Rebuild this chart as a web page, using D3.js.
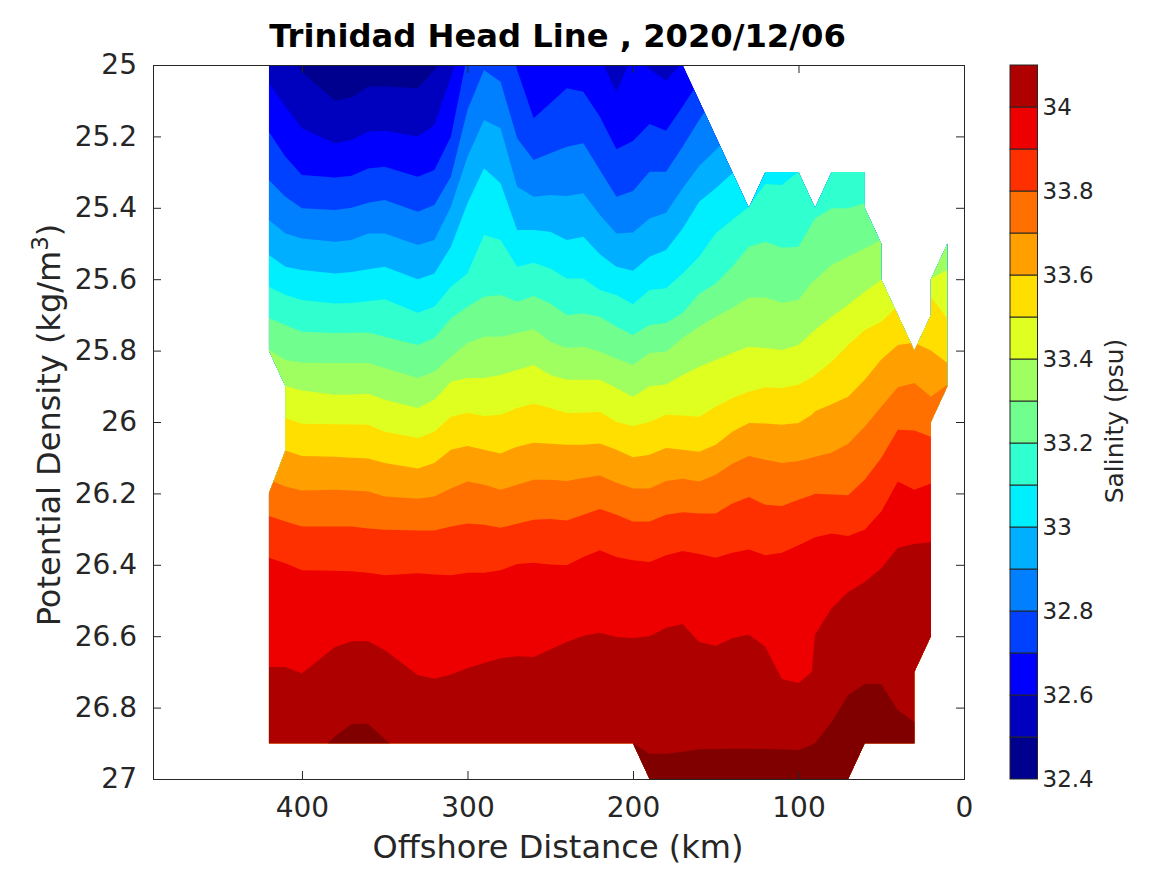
<!DOCTYPE html>
<html>
<head>
<meta charset="utf-8">
<title>Trinidad Head Line</title>
<script src="https://cdn.jsdelivr.net/npm/d3@7"></script>
<style>
  html, body { margin: 0; padding: 0; background: #fff; }
  text { font-family: "DejaVu Sans", sans-serif; fill: #262626; }
</style>
</head>
<body>
<div id="chart"></div>
<script>
// offshore distance of the stations (km)
var stations = [420,410,400,380,370,360,350,330,320,310,300,290,280,270,260,250,240,230,220,210,200,190,180,170,160,150,140,130,120,110,100,92,90,80,70,60,50,40,30,20,10];

// potential density at which salinity crosses each level, per station
var sal325 = [24.9,24.95,25.02,25.1,25.09,25.06,25.06,25.065,25.014,24.95,24.9,24.8,24.8,24.8,24.8,24.8,24.8,24.8,24.8,24.8,24.8,24.8,24.8,24.8,24.8,24.8,24.8,24.8,24.8,24.8,24.8,24.8,24.8,24.8,24.8,24.8,24.8,24.8,24.8,24.8,24.8];
var sal326 = [25.05,25.116,25.177,25.22,25.21,25.187,25.184,25.2,25.168,25.033,24.904,24.9,24.9,24.9,24.9,24.9,24.9,24.97,24.98,25.075,24.97,25.012,25.044,24.99,24.95,24.9,24.9,24.9,24.9,24.9,24.9,24.9,24.9,24.9,24.9,24.9,24.9,24.9,24.9,24.9,24.9];
var sal327 = [25.187,25.257,25.308,25.315,25.31,25.29,25.285,25.313,25.294,25.2,24.97,24.8,24.8,25.014,25.149,25.107,25.065,25.075,25.145,25.236,25.213,25.165,25.184,25.116,25.045,24.98,24.9,24.9,24.9,24.9,24.9,24.9,24.9,24.9,24.9,24.9,24.9,24.9,24.9,24.9,24.9];
var sal328 = [25.322,25.369,25.401,25.406,25.4,25.386,25.378,25.411,25.392,25.313,25.126,25.014,25.047,25.205,25.266,25.247,25.229,25.219,25.294,25.369,25.353,25.299,25.299,25.229,25.154,25.084,25.02,24.95,24.9,24.9,24.9,24.9,24.9,24.9,24.9,24.9,24.9,24.9,24.9,24.9,24.9];
var sal329 = [25.434,25.472,25.486,25.495,25.49,25.472,25.472,25.504,25.49,25.397,25.257,25.154,25.177,25.341,25.369,25.364,25.367,25.359,25.42,25.472,25.469,25.43,25.414,25.345,25.283,25.238,25.19,25.1,25.0,24.9,24.9,24.9,24.9,24.9,24.9,24.9,24.9,24.9,24.9,24.9,24.9];
var sal330 = [25.532,25.565,25.574,25.584,25.58,25.572,25.565,25.6,25.584,25.509,25.387,25.289,25.331,25.462,25.462,25.467,25.49,25.481,25.53,25.565,25.576,25.537,25.518,25.458,25.383,25.345,25.303,25.25,25.2,25.2,25.15,25.1,25.1,24.9,24.9,24.9,24.9,24.9,24.9,24.9,24.9];
var sal331 = [25.621,25.644,25.658,25.668,25.667,25.662,25.656,25.694,25.677,25.621,25.584,25.476,25.49,25.565,25.554,25.57,25.598,25.598,25.63,25.644,25.67,25.63,25.625,25.584,25.537,25.471,25.434,25.397,25.333,25.336,25.299,25.2,25.15,25.1,25.1,25.1,25.1,25.1,25.1,25.1,25.1];
var sal332 = [25.709,25.728,25.747,25.751,25.75,25.749,25.761,25.784,25.765,25.71,25.677,25.649,25.644,25.663,25.647,25.668,25.7,25.696,25.705,25.733,25.756,25.728,25.723,25.695,25.641,25.612,25.565,25.509,25.495,25.512,25.509,25.445,25.43,25.401,25.401,25.387,25.3,25.3,25.3,25.3,25.3];
var sal333 = [25.798,25.826,25.834,25.835,25.835,25.835,25.849,25.877,25.859,25.817,25.779,25.761,25.761,25.751,25.74,25.775,25.793,25.789,25.803,25.822,25.84,25.807,25.803,25.765,25.733,25.705,25.681,25.651,25.651,25.666,25.658,25.61,25.602,25.56,25.537,25.514,25.49,25.45,25.45,25.45,25.45];
var sal334 = [25.89,25.899,25.912,25.924,25.923,25.921,25.938,25.961,25.938,25.887,25.877,25.877,25.868,25.854,25.84,25.868,25.882,25.882,25.882,25.905,25.929,25.9,25.895,25.868,25.845,25.826,25.807,25.789,25.793,25.798,25.784,25.75,25.742,25.705,25.672,25.635,25.602,25.59,25.58,25.598,25.574];
var sal335 = [25.98,25.989,26.005,26.006,26.007,26.008,26.027,26.045,26.027,25.985,25.974,25.983,25.98,25.961,25.949,25.961,25.975,25.974,25.971,26.0,26.011,26.0,25.98,25.982,25.985,25.957,25.933,25.915,25.903,25.905,25.896,25.875,25.868,25.831,25.784,25.742,25.719,25.675,25.66,25.65,25.71];
var sal336 = [26.075,26.08,26.095,26.097,26.1,26.102,26.115,26.13,26.115,26.078,26.067,26.078,26.088,26.069,26.058,26.061,26.064,26.064,26.06,26.078,26.099,26.092,26.073,26.078,26.083,26.064,26.027,26.003,26.004,26.008,26.003,25.98,25.97,25.95,25.929,25.882,25.825,25.784,25.778,25.8,25.835];
var sal337 = [26.162,26.181,26.192,26.19,26.192,26.195,26.209,26.215,26.209,26.186,26.167,26.176,26.19,26.176,26.162,26.162,26.165,26.157,26.15,26.17,26.186,26.186,26.165,26.159,26.167,26.148,26.117,26.095,26.106,26.115,26.109,26.1,26.097,26.086,26.061,26.013,25.957,25.903,25.891,25.929,25.896];
var sal338 = [26.263,26.279,26.293,26.293,26.293,26.298,26.302,26.304,26.304,26.293,26.284,26.288,26.296,26.285,26.274,26.272,26.276,26.26,26.244,26.26,26.279,26.279,26.26,26.253,26.256,26.256,26.228,26.21,26.232,26.235,26.218,26.205,26.201,26.203,26.205,26.162,26.101,26.022,26.024,26.041,26.04];
var sal339 = [26.38,26.396,26.415,26.417,26.418,26.422,26.429,26.424,26.427,26.429,26.422,26.422,26.415,26.398,26.394,26.399,26.401,26.378,26.359,26.378,26.387,26.392,26.373,26.361,26.37,26.38,26.366,26.357,26.373,26.366,26.345,26.328,26.323,26.312,26.319,26.302,26.251,26.167,26.19,26.172,26.17];
var sal340 = [26.686,26.686,26.704,26.63,26.614,26.614,26.639,26.709,26.719,26.707,26.69,26.675,26.662,26.656,26.658,26.637,26.616,26.599,26.59,26.602,26.605,26.6,26.576,26.566,26.616,26.627,26.606,26.595,26.63,26.72,26.731,26.7,26.595,26.522,26.476,26.448,26.41,26.352,26.342,26.336,26.33];
var sal341 = [27,27,26.97,26.88,26.846,26.845,26.888,26.97,27,27,27,27,27,27,27,27,27,27,27,27,26.9,26.929,26.929,26.924,26.917,26.916,26.915,26.915,26.916,26.917,26.919,26.905,26.899,26.84,26.765,26.734,26.734,26.807,26.84,26.9,26.9];

var levelLines = [sal325,sal326,sal327,sal328,sal329,sal330,sal331,sal332,sal333,sal334,sal335,sal336,sal337,sal338,sal339,sal340,sal341];

// edge of the sampled region: [distance, density]
var sampledEdge = [[420,25],[170,25],[130,25.4],[120,25.3],[100,25.3],[90,25.4],[80,25.3],[60,25.3],[60,25.4],[50,25.5],[50,25.6],[30,25.8],[20,25.7],[20,25.6],[10,25.5],[10,25.9],[20,26],[20,26.6],[30,26.7],[30,26.9],[60,26.9],[70,27],[190,27],[200,26.9],[420,26.9],[420,26.2],[410,26.08],[410,25.9],[420,25.8]];

// band edges on the colorbar, low to high, and its ticks
var bandEdges = [32.4,32.5,32.6,32.7,32.8,32.9,33,33.1,33.2,33.3,33.4,33.5,33.6,33.7,33.8,33.9,34,34.1];
var salTicks = [32.4,32.6,32.8,33,33.2,33.4,33.6,33.8,34];
var distTicks = [400,300,200,100,0];
var densTicks = [25,25.2,25.4,25.6,25.8,26,26.2,26.4,26.6,26.8,27];

// colormap, one colour per band, last one is off the colorbar (above 34.1)
var bandColors = ["#00008f","#0000bf","#0000ff","#0040ff","#0080ff","#00afff","#00efff","#30ffcf","#70ff8f","#a0ff60","#dfff20","#ffdf00","#ff9f00","#ff7000","#ff3000","#ef0000","#af0000","#800000"];

var w = 1167, h = 875;
var ink = "#262626";

var svg = d3.select("#chart").append("svg")
  .attr("width", w)
  .attr("height", h)
  .style("display", "block");

var x = d3.scaleLinear().domain([490, 0]).range([153, 964]);
var y = d3.scaleLinear().domain([25, 27]).range([65, 779]);

svg.append("clipPath").attr("id", "axes-clip").append("rect")
  .attr("x", 153).attr("y", 65).attr("width", 811).attr("height", 714);

var edgeLine = d3.line().x(d => x(d[0])).y(d => y(d[1]));

svg.append("clipPath").attr("id", "sampled-clip").append("path")
  .attr("d", edgeLine(sampledEdge) + "Z");

var plot = svg.append("g").attr("clip-path", "url(#axes-clip)")
  .append("g").attr("clip-path", "url(#sampled-clip)");

// lowest band first, every next band is painted over from its line downwards
plot.append("path")
  .attr("d", edgeLine(sampledEdge) + "Z")
  .attr("fill", bandColors[0]);

var band = d3.area()
  .x((d, i) => x(stations[i]))
  .y0(y(27.2))
  .y1(d => y(d));

plot.selectAll("path.band")
  .data(levelLines)
  .enter()
  .append("path")
  .attr("class", "band")
  .attr("d", band)
  .attr("fill", (d, i) => bandColors[i + 1]);

// axes box with inward ticks on all four sides
function styleAxis(g) {
  g.selectAll("path.domain").attr("stroke", ink).attr("stroke-width", 1);
  g.selectAll(".tick line").attr("stroke", ink).attr("stroke-width", 1);
}

var fmtDens = d => d3.format(".1f")(d).replace(".0", "");

svg.append("g").attr("transform", "translate(0,779)")
  .call(d3.axisBottom(x).tickValues(distTicks).tickSize(-8).tickPadding(18).tickFormat(d3.format("d")))
  .call(styleAxis)
  .call(g => g.selectAll("text").attr("font-size", 28).attr("fill", ink));

svg.append("g").attr("transform", "translate(0,65)")
  .call(d3.axisTop(x).tickValues(distTicks).tickSize(-8).tickFormat(""))
  .call(styleAxis);

svg.append("g").attr("transform", "translate(153,0)")
  .call(d3.axisLeft(y).tickValues(densTicks).tickSize(-8).tickPadding(16).tickFormat(fmtDens))
  .call(styleAxis)
  .call(g => g.selectAll("text").attr("font-size", 28).attr("fill", ink));

svg.append("g").attr("transform", "translate(964,0)")
  .call(d3.axisRight(y).tickValues(densTicks).tickSize(-8).tickFormat(""))
  .call(styleAxis);

// titles
svg.append("text")
  .attr("x", 557.5).attr("y", 47)
  .attr("text-anchor", "middle")
  .attr("font-size", 32.2)
  .attr("font-weight", "bold")
  .style("fill", "#000")
  .text("Trinidad Head Line , 2020/12/06");

svg.append("text")
  .attr("x", 558).attr("y", 858)
  .attr("text-anchor", "middle")
  .attr("font-size", 32)
  .text("Offshore Distance (km)");

var yLabel = svg.append("text")
  .attr("transform", "translate(60,425) rotate(-90)")
  .attr("text-anchor", "middle")
  .attr("font-size", 32);
yLabel.append("tspan").text("Potential Density (kg/m");
yLabel.append("tspan").attr("dy", -12).attr("font-size", 23).text("3");
yLabel.append("tspan").attr("dy", 12).text(")");

// colorbar
var cbar = d3.scaleLinear().domain([32.4, 34.1]).range([779, 65]);
var cbarBands = bandEdges.slice(0, -1);

svg.append("g").selectAll("rect")
  .data(cbarBands)
  .enter()
  .append("rect")
  .attr("x", 1010)
  .attr("width", 27.5)
  .attr("y", (d, i) => cbar(bandEdges[i + 1]))
  .attr("height", (d, i) => cbar(d) - cbar(bandEdges[i + 1]))
  .attr("fill", (d, i) => bandColors[i])
  .attr("stroke", ink)
  .attr("stroke-width", 1);

svg.append("g").attr("transform", "translate(1037.5,0)")
  .call(d3.axisRight(cbar).tickValues(salTicks).tickSize(0).tickPadding(5).tickFormat(d3.format("~f")))
  .call(g => g.select("path.domain").remove())
  .call(g => g.selectAll("text").attr("font-size", 23).attr("fill", ink));

svg.append("text")
  .attr("transform", "translate(1123,421) rotate(-90)")
  .attr("text-anchor", "middle")
  .attr("font-size", 25)
  .text("Salinity (psu)");
</script>
</body>
</html>
